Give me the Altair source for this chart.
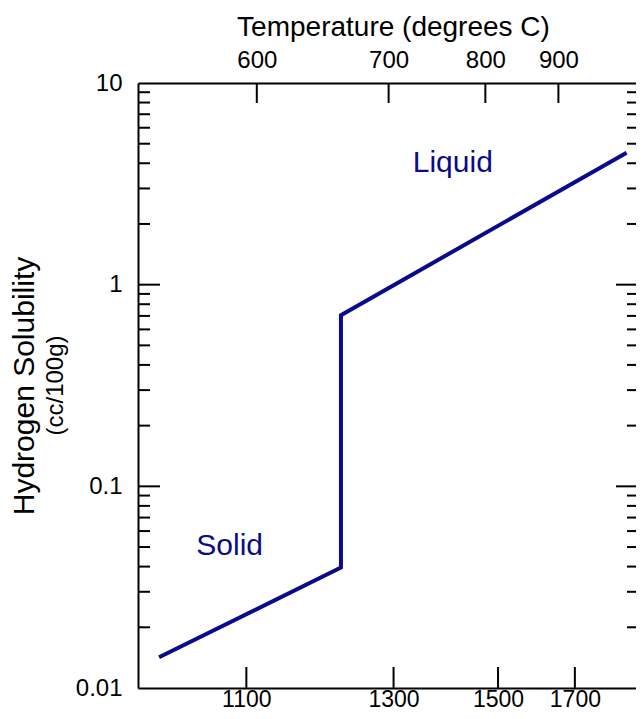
import altair as alt
import pandas as pd

# ---- data ----
temp_c = [543, 660, 660, 1024]          # temperature (degrees C)
solubility = [0.0142, 0.0396, 0.706, 4.51]  # cc/100g
phase_text = ["Liquid", "Solid"]
phase_temp_c = [763, 583]
phase_sol = [4.0, 0.0505]
top_ticks_c = [600, 700, 800, 900]
bottom_ticks_f = [1100, 1300, 1500, 1700]
y_major = [0.01, 0.1, 1, 10]
y_major_inner = [0.1, 1]
y_minor = [round(m * d, 3) for d in (0.01, 0.1, 1) for m in range(2, 10)]
y_title = "Hydrogen Solubility"
y_subtitle = ["(cc/100g)"]
x_title = "Temperature (degrees C)"

W, H = 498, 605
NAVY = "#0a0a8c"
FONT = "Liberation Sans"
U_EXPR = "1e6 / pow(datum.t + 273.15, 2)"


def u_of_c(c):
    return 1e6 / (c + 273.15) ** 2


def u_of_f(f):
    return u_of_c((f - 32) * 5 / 9)


xscale = alt.Scale(domain=[0.576076, 1.542109], reverse=True, nice=False, zero=False)
yscale = alt.Scale(type="log", domain=[0.01, 10], nice=False)

line_df = pd.DataFrame({"t": temp_c, "s": solubility, "i": range(len(temp_c))})
text_df = pd.DataFrame({"t": phase_temp_c, "s": phase_sol, "label": phase_text})
bot_df = pd.DataFrame({"u": [u_of_f(f) for f in bottom_ticks_f]})
top_df = pd.DataFrame({"u": [u_of_c(c) for c in top_ticks_c]})
minor_df = pd.DataFrame({"s": y_minor})
major_df = pd.DataFrame({"s": y_major_inner})
sub_df = pd.DataFrame({"label": y_subtitle})

line = alt.Chart(line_df).transform_calculate(u=U_EXPR).mark_line(
    color=NAVY, strokeWidth=4, strokeJoin="miter"
).encode(
    x=alt.X("u:Q", scale=xscale, axis=alt.Axis(
        orient="bottom", values=[u_of_f(f) for f in bottom_ticks_f],
        labelExpr="format((sqrt(1e6 / datum.value) - 273.15) * 9 / 5 + 32, '.0f')",
        ticks=False, tickSize=0, labelPadding=0, labelFontSize=23, title=None,
        grid=False, domainWidth=2, domainColor="black")),
    y=alt.Y("s:Q", scale=yscale, axis=alt.Axis(
        orient="left", values=y_major, format="~g", ticks=False, tickSize=0,
        labelPadding=16, title=y_title, titleFontSize=30, titlePadding=36, grid=False,
        domainWidth=2, domainColor="black")),
    order="i:Q",
)

texts = alt.Chart(text_df).transform_calculate(u=U_EXPR).mark_text(
    color=NAVY, fontSize=30, font=FONT
).encode(
    x=alt.X("u:Q", scale=xscale),
    y=alt.Y("s:Q", scale=yscale),
    text="label:N",
)

bot_ticks = alt.Chart(bot_df).mark_rule(color="black", strokeWidth=2).encode(
    x=alt.X("u:Q", scale=xscale), y=alt.value(H - 21), y2=alt.value(H)
)
left_minor = alt.Chart(minor_df).mark_rule(color="black", strokeWidth=2).encode(
    y=alt.Y("s:Q", scale=yscale), x=alt.value(0), x2=alt.value(12)
)
left_major = alt.Chart(major_df).mark_rule(color="black", strokeWidth=2).encode(
    y=alt.Y("s:Q", scale=yscale), x=alt.value(0), x2=alt.value(22)
)
right_minor = alt.Chart(minor_df).mark_rule(color="black", strokeWidth=2).encode(
    y=alt.Y("s:Q", scale=yscale), x=alt.value(W - 9), x2=alt.value(W)
)
right_major = alt.Chart(major_df).mark_rule(color="black", strokeWidth=2).encode(
    y=alt.Y("s:Q", scale=yscale), x=alt.value(W - 20), x2=alt.value(W)
)
subtitle = alt.Chart(sub_df).mark_text(
    fontSize=24, font=FONT, angle=270, color="black"
).encode(x=alt.value(-82), y=alt.value(H / 2), text="label:N")

main = alt.layer(line, texts, bot_ticks, left_minor, left_major,
                 right_minor, right_major, subtitle)

top = alt.Chart(top_df).mark_rule(color="black", strokeWidth=2).encode(
    x=alt.X("u:Q", scale=xscale, axis=alt.Axis(
        orient="top", values=[u_of_c(c) for c in top_ticks_c],
        labelExpr="format(sqrt(1e6 / datum.value) - 273.15, '.0f')",
        ticks=False, tickSize=0, labelPadding=11, title=x_title, titleFontSize=28,
        titlePadding=7, titleX=255, grid=False, domainWidth=2, domainColor="black")),
    y=alt.value(0), y2=alt.value(20),
)

chart = alt.layer(main, top).resolve_scale(x="independent").properties(
    width=W, height=H,
    padding={"left": 130, "top": 75, "right": 0, "bottom": 23},
    autosize=alt.AutoSizeParams(type="none"),
).configure_view(stroke=None).configure_axis(
    labelFont=FONT, titleFont=FONT, labelFontSize=24,
    labelColor="black", titleColor="black", titleFontWeight="normal",
)

chart.save("out.html", embed_options={"renderer": "svg", "actions": False})
